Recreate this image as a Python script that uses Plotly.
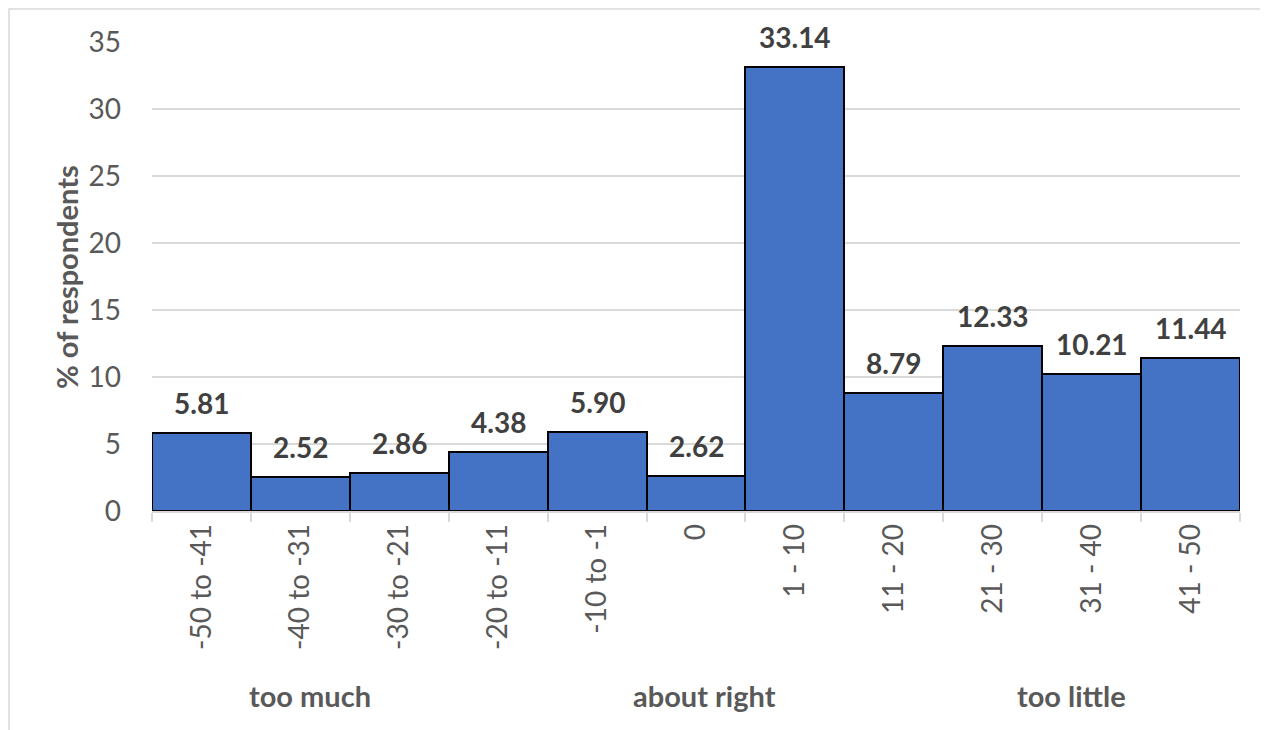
import plotly.graph_objects as go

categories = ["-50 to -41", "-40 to -31", "-30 to -21", "-20 to -11", "-10 to -1",
              "0", "1 - 10", "11 - 20", "21 - 30", "31 - 40", "41 - 50"]
values = [5.81, 2.52, 2.86, 4.38, 5.90, 2.62, 33.14, 8.79, 12.33, 10.21, 11.44]
group_labels = ["too much", "about right", "too little"]
y_ticks = [0, 5, 10, 15, 20, 25, 30, 35]

W, H = 1268, 730
OFF = 8  # page body margin
ml, mr, mt, mb = 152 - OFF, 36, 42 - OFF, 227
pw = W - ml - mr
ph = H - mt - mb

FONT = "Lato"
GRAY = "#595959"


def px_x(p):
    return (p - OFF - ml) / pw


def px_y(p):
    return (H - mb - (p - OFF)) / ph


fig = go.Figure()
fig.add_trace(go.Bar(
    x=categories, y=values,
    marker=dict(color="#4472C4", line=dict(color="#000000", width=2)),
    hoverinfo="x+y",
))

# data labels
for i, v in enumerate(values):
    fig.add_annotation(x=i, y=v, text=f"<b>{v:.2f}</b>", showarrow=False,
                       yanchor="middle", yshift=30,
                       font=dict(family=FONT, size=28, color="#404040"))

# group labels
group_px = [310, 704, 1071]
for lab, p in zip(group_labels, group_px):
    fig.add_annotation(x=px_x(p), y=px_y(695), xref="paper", yref="paper",
                       text=f"<b>{lab}</b>", showarrow=False, xanchor="center", yanchor="middle",
                       font=dict(family=FONT, size=29, color=GRAY))

# y axis title
fig.add_annotation(x=px_x(66), y=px_y(277), xref="paper", yref="paper",
                   text="<b>% of respondents</b>", showarrow=False, textangle=-90,
                   xanchor="center", yanchor="middle",
                   font=dict(family=FONT, size=29, color=GRAY))

# chart frame
fig.add_shape(type="rect", xref="paper", yref="paper",
              x0=px_x(9), x1=px_x(W + 40),
              y0=px_y(H + 40), y1=px_y(9),
              line=dict(color="#D9D9D9", width=1.5), fillcolor="rgba(0,0,0,0)", layer="below")

fig.update_layout(
    width=W, height=H,
    margin=dict(l=ml, r=mr, t=mt, b=mb),
    paper_bgcolor="white", plot_bgcolor="white",
    bargap=0, showlegend=False,
    font=dict(family=FONT, color=GRAY),
    xaxis=dict(
        type="category", tickangle=-90, tickfont=dict(size=28, color=GRAY),
        showgrid=False, showline=True, linecolor="#D9D9D9", linewidth=1.5,
        ticks="outside", tickson="boundaries", ticklen=9, tickcolor="#D9D9D9", tickwidth=1.5,
        range=[-0.5, len(categories) - 0.5],
    ),
    yaxis=dict(
        range=[0, 35], tickvals=y_ticks, tickfont=dict(size=28, color=GRAY),
        showgrid=True, gridcolor="#D9D9D9", gridwidth=1.5, zeroline=False,
        showline=False, ticks="", ticklabelstandoff=30,
    ),
)

fig.write_html("out.html")
